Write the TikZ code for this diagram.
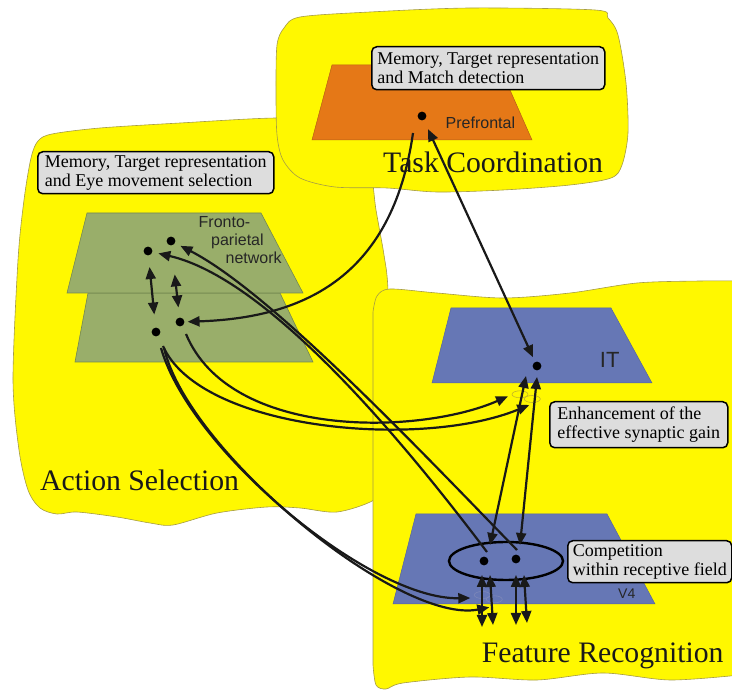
\documentclass[tikz,border=0pt]{standalone}
\usepackage{fontspec}
\setmainfont{Liberation Serif}
\setsansfont{Liberation Sans}
\usetikzlibrary{arrows.meta,shapes.geometric}
\definecolor{blobY}{RGB}{255,248,0}
\definecolor{blobE}{RGB}{165,155,70}
\definecolor{orng}{RGB}{229,120,23}
\definecolor{grn}{RGB}{153,174,106}
\definecolor{grnE}{RGB}{115,135,80}
\definecolor{blu}{RGB}{102,119,181}
\definecolor{bluE}{RGB}{85,100,160}
\definecolor{boxG}{RGB}{221,221,221}
\definecolor{itE}{RGB}{195,180,40}
\definecolor{v4E}{RGB}{125,135,185}
\begin{document}
\begin{tikzpicture}[x=1pt,y=-1pt,
  blob/.style={fill=blobY,draw=blobE,line width=0.6pt},
  dot/.style={circle,fill=black,inner sep=0pt,minimum size=8.8pt},
  tinyell/.style={ellipse,line width=0.6pt,inner sep=0pt,minimum width=16pt,minimum height=7pt},
  conn/.style={line width=2.2pt,black!90},
  arr/.style={conn,-{Triangle[length=12pt,width=10pt]}},
  dbl/.style={conn,{Triangle[length=12pt,width=10pt]}-{Triangle[length=12pt,width=10pt]}},
  note/.style={draw,line width=1.5pt,fill=boxG,rounded corners=5pt,anchor=north west,align=left,font=\fontsize{18}{19.5}\selectfont,inner xsep=4.5pt,inner ysep=0pt},
  area/.style={font=\fontsize{29.7}{32}\selectfont,anchor=base west,inner sep=0pt,text=black!90},
  tag/.style={font=\sffamily\fontsize{16}{18}\selectfont,anchor=base west,inner sep=0pt,text=black!85}
]
\useasboundingbox (0,0) rectangle (732,692);
% ---- areas ----
\path[blob] plot[smooth cycle,tension=0.5] coordinates {
 (31,158) (38,141) (52,134) (100,128) (180,123) (277,118) (340,122) (368,160)
 (376,210) (384,255) (388,290) (391,400) (389,480) (374,500) (337,512) (300,508)
 (267,507) (217,513) (173,525) (150,523) (117,517) (77,512) (57,514) (40,508)
 (28,490) (19,450) (13,380) (18,260) (24,200)};
\path[blob] plot[smooth cycle,tension=0.5] coordinates {
 (277,45) (284,28) (300,17) (370,12) (470,8) (595,10) (608,18) (618,35)
 (626,83) (628,133) (622,165) (611,178) (570,185) (503,190) (437,192) (387,188)
 (335,187) (300,178) (283,160) (277,135) (276,90)};
\path[blob] (373,480)
 -- plot[smooth,tension=0.5] coordinates {(373,312) (377,296) (390,289) (437,293) (503,298) (570,293) (637,283) (700,281) (740,281)}
 -- (760,281) -- (760,676)
 -- plot[smooth,tension=0.5] coordinates {(740,675) (670,680) (603,673) (537,680) (470,677) (403,683) (386,689) (376,685) (373,665)}
 -- cycle;
% ---- planes ----
\path[fill=orng,draw=orng!80!black,line width=0.5pt] (332,65) -- (499,65) -- (532,140) -- (312,140) -- cycle;
\path[fill=grn,draw=grnE,line width=0.6pt] (88,293) -- (280,293) -- (313,362) -- (75,362) -- cycle;
\path[fill=grn,draw=grnE,line width=0.6pt] (87,213) -- (261,213) -- (303,293) -- (67,293) -- cycle;
\path[fill=blu,draw=bluE,line width=0.5pt] (451,308) -- (611,308) -- (652,383) -- (432,383) -- cycle;
\path[fill=blu,draw=bluE,line width=0.5pt] (416,514) -- (607,514) -- (655,604) -- (393,604) -- cycle;
% ---- texts ----
\node[note,minimum width=233pt,minimum height=43pt] (b1) at (371,46) {Memory, Target representation\\and Match detection};
\node[note,minimum width=236pt,minimum height=42pt] (b2) at (37,151) {Memory, Target representation\\and Eye movement selection};
\node[note,minimum width=178pt,minimum height=46pt] (b3) at (549,401) {Enhancement of the\\effective synaptic gain};
\node[note,minimum width=164pt,minimum height=42pt] (b4) at (567,540) {Competition\\within receptive field};
\node[area] (tc) at (383,172.3) {Task Coordination};
\node[area] (as) at (40,491) {Action Selection};
\node[area] (fr) at (481.6,662.7) {Feature Recognition};
\node[tag] (pfl) at (445.5,128.3) {Prefrontal};
\node[tag] (fp1) at (198.5,227.3) {Fronto-};
\node[tag] (fp2) at (211,245.7) {parietal};
\node[tag] (fp3) at (225.5,264) {network};
\node[tag,font=\sffamily\fontsize{22}{24}\selectfont] (itl) at (599.7,367.3) {IT};
\node[tag,font=\sffamily\fontsize{14}{16}\selectfont] (v4l) at (618,598.3) {V4};
% ---- units ----
\node[ellipse,draw,line width=2.4pt,inner sep=0pt,minimum width=114pt,minimum height=38pt] (rf) at (506,561) {};
\node[tinyell,draw=itE] (ie1) at (520,394.3) {};
\node[tinyell,draw=itE] (ie2) at (532.3,399) {};
\node[tinyell,draw=v4E] (ve1) at (482.3,595) {};
\node[tinyell,draw=v4E] (ve2) at (494.3,599.3) {};
\node[dot] (pf) at (422,116) {};
\node[dot] (fa) at (148,251) {};
\node[dot] (fb) at (171,241) {};
\node[dot] (fc) at (156,332) {};
\node[dot] (fd) at (180,322) {};
\node[dot] (it) at (537,366) {};
\node[dot] (va) at (484,561) {};
\node[dot] (vb) at (516,559) {};
\coordinate (d1a) at (482,575); \coordinate (d1b) at (482,627);
\coordinate (d2a) at (490,575); \coordinate (d2b) at (493,625);
\coordinate (d3a) at (516,575); \coordinate (d3b) at (516,625);
\coordinate (d4a) at (524,575); \coordinate (d4b) at (527,623);
% ---- connectors ----
\draw[arr,shorten >=3pt] ([shift={(-9,17)}]pf.center) .. controls (392,280) and (300,318) .. (fd);
\draw[dbl,shorten <=10pt,shorten >=5pt] (pf) -- (it);
\draw[dbl,shorten <=11.5pt,shorten >=13pt] (fa) -- (fc);
\draw[dbl,shorten <=29pt,shorten >=10pt] (fb) -- (fd);
\draw[arr,shorten >=6pt] ([shift={(3,-9)}]va.center) .. controls (395,430) and (265,278) .. (fa);
\draw[arr,shorten >=6pt] ([shift={(1,-9)}]vb.center) .. controls (415,445) and (270,292) .. (fb);
\draw[arr] ([shift={(6,12)}]fd.center) .. controls (230,440) and (420,435) .. ([shift={(-12,2)}]ie1.center);
\draw[arr] ([shift={(7,14)}]fc.center) .. controls (200,430) and (420,450) .. ([shift={(-3,6)}]ie2.center);
\draw[arr] ([shift={(5,16)}]fc.center) .. controls (190,450) and (370,600) .. ([shift={(-12,3)}]ve1.center);
\draw[arr] ([shift={(8,16)}]fc.center) .. controls (188,452) and (400,625) .. ([shift={(-5,8)}]ve2.center);
\draw[dbl] ([shift={(-11,10)}]it.center) -- ([shift={(6,-16)}]va.center);
\draw[dbl] ([shift={(0,11)}]it.center) -- ([shift={(4,-14)}]vb.center);
\draw[dbl] (d1a) -- (d1b);
\draw[dbl] (d2a) -- (d2b);
\draw[dbl] (d3a) -- (d3b);
\draw[dbl] (d4a) -- (d4b);
\end{tikzpicture}
\end{document}
